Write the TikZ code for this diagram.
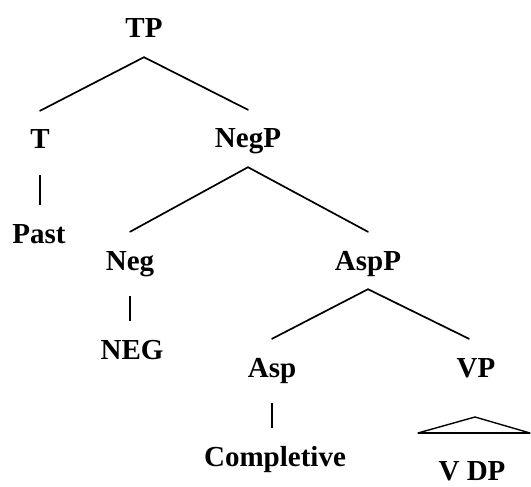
\documentclass[tikz,border=0pt]{standalone}
\usepackage{fontspec}
\setmainfont{Liberation Serif}
\begin{document}
\begin{tikzpicture}[x=1pt,y=-1pt,
  lbl/.style={font=\fontsize{29}{29}\selectfont\bfseries, anchor=base,
    text height=19pt, text depth=0pt, inner xsep=0pt, inner ysep=19pt},
  branch/.style={line width=1.7pt, line cap=round},
  unary/.style={line width=1.7pt, shorten <=7pt}]
\useasboundingbox (0,0) rectangle (531,487);

% labels, placed on their baselines
\node[lbl] (TP)   at (144,38)  {TP};
\node[lbl] (T)    at (40,149)  {T};
\node[lbl] (Past) at (39,243)  {Past};
\node[lbl] (NegP) at (248,148) {NegP};
\node[lbl] (Neg)  at (130,270) {Neg};
\node[lbl] (NEG)  at (132,359) {NEG};
\node[lbl] (AspP) at (368,270) {AspP};
\node[lbl] (Asp)  at (272,377) {Asp};
\node[lbl] (VP)   at (476,377) {VP};
\node[lbl] (Comp) at (275,466) {Completive};
\node[lbl, inner ysep=1pt] (VDP) at (472,480) {V DP};

% branching
\draw[branch] (T.north) -- (TP.south) -- (NegP.north);
\draw[branch] (Neg.north) -- (NegP.south) -- (AspP.north);
\draw[branch] (Asp.north) -- (AspP.south) -- ([xshift=-7pt]VP.north);

% non-branching, straight down from the head
\draw[unary] (T.south) -- (T.south |- Past.north);
\draw[unary] (Neg.south) -- (Neg.south |- NEG.north);
\draw[unary] (Asp.south) -- (Asp.south |- Comp.north);

% roof over the VP
\coordinate (roof) at (475,417);
\coordinate (roofL) at (418,433);
\coordinate (roofR) at (530,433);
\draw[line width=1.4pt, line join=round] (roof) -- (roofL) -- (roofR) -- cycle;
\draw[line width=2.2pt] (roofL) -- (roofR);
\end{tikzpicture}
\end{document}
